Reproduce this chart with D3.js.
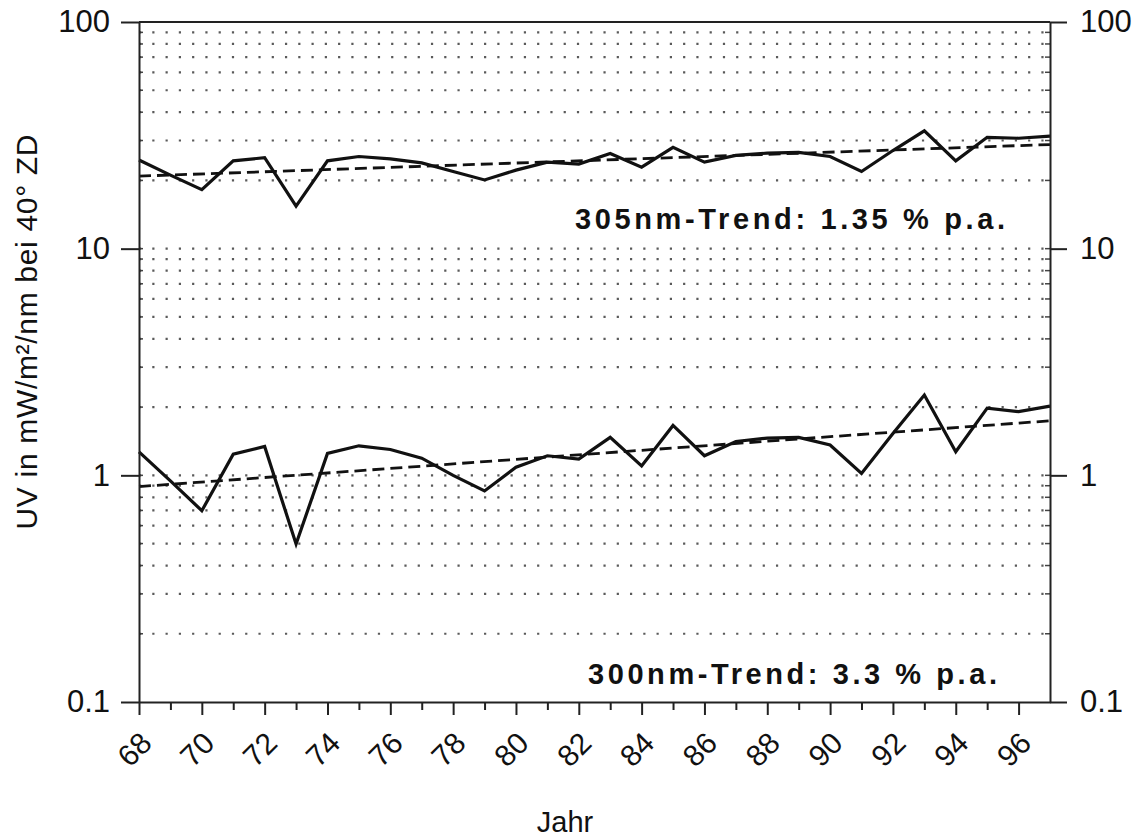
<!DOCTYPE html>
<html>
<head>
<meta charset="utf-8">
<script src="https://cdn.jsdelivr.net/npm/d3@7"></script>
<style>
  html, body { margin: 0; padding: 0; background: #fff; }
  svg { display: block; }
  text { font-family: "Liberation Sans", Arial, Helvetica, sans-serif; fill: #111; }
</style>
</head>
<body>
<svg id="chart" width="1140" height="837"></svg>
<script>
// ---- data ----
const years = [68,69,70,71,72,73,74,75,76,77,78,79,80,81,82,83,84,85,86,87,88,89,90,91,92,93,94,95,96,97];
const uv305 = [24.6,21.1,18.2,24.4,25.2,15.4,24.4,25.5,24.9,23.9,21.9,20.1,22.2,24.1,23.6,26.3,22.9,28.0,24.1,25.8,26.4,26.6,25.5,21.9,27.1,33.1,24.4,31.0,30.7,31.4];
const uv300 = [1.27,0.945,0.698,1.24,1.34,0.498,1.25,1.35,1.30,1.19,1.00,0.853,1.086,1.22,1.18,1.47,1.10,1.66,1.22,1.41,1.46,1.47,1.36,1.02,1.53,2.26,1.27,1.98,1.91,2.02];
const trendYears = [68, 97];
const trend305 = [20.9, 28.8];
const trend300 = [0.892, 1.74];
const majorYearTicks = [68,70,72,74,76,78,80,82,84,86,88,90,92,94,96];
const minorYearTicks = [69,71,73,75,77,79,81,83,85,87,89,91,93,95];
const decadeTicks = [0.1, 1, 10, 100];
const decadeLabels = ["0.1", "1", "10", "100"];
const gridValues = [0.2,0.3,0.4,0.5,0.6,0.7,0.8,0.9,1,2,3,4,5,6,7,8,9,10,20,30,40,50,60,70,80,90];
const label305 = "305nm-Trend: 1.35 % p.a.";
const label300 = "300nm-Trend: 3.3 % p.a.";
const xTitle = "Jahr";
const yTitle = "UV in mW/m²/nm bei 40° ZD";

// ---- layout ----
const L = 139, R = 1050, T = 22, B = 702;
const svg = d3.select("#chart");
const x = d3.scaleLinear().domain([68, 97]).range([L, R]);
const y = d3.scaleLog().domain([0.1, 100]).range([B, T]);

// dotted grid
svg.append("g").selectAll("line").data(gridValues).join("line")
  .attr("x1", L).attr("x2", R)
  .attr("y1", d => y(d)).attr("y2", d => y(d))
  .attr("stroke", "#5a5a5a").attr("stroke-width", 2.2)
  .attr("stroke-dasharray", "2.2 11.07");

// small inward ticks at grid values on both sides
svg.append("g").selectAll("line").data(gridValues).join("line")
  .attr("x1", L).attr("x2", L + 4)
  .attr("y1", d => y(d)).attr("y2", d => y(d))
  .attr("stroke", "#444").attr("stroke-width", 1.5);
svg.append("g").selectAll("line").data(gridValues).join("line")
  .attr("x1", R - 5).attr("x2", R)
  .attr("y1", d => y(d)).attr("y2", d => y(d))
  .attr("stroke", "#444").attr("stroke-width", 1.5);

// lines
const line = d3.line().x(d => x(d[0])).y(d => y(d[1]));
const s305 = years.map((yr, i) => [yr, uv305[i]]);
const s300 = years.map((yr, i) => [yr, uv300[i]]);
const t305 = trendYears.map((yr, i) => [yr, trend305[i]]);
const t300 = trendYears.map((yr, i) => [yr, trend300[i]]);

[t305, t300].forEach(t => {
  svg.append("path").datum(t).attr("d", line)
    .attr("fill", "none").attr("stroke", "#111").attr("stroke-width", 2.8)
    .attr("stroke-dasharray", "12 6");
});
[s305, s300].forEach(s => {
  svg.append("path").datum(s).attr("d", line)
    .attr("fill", "none").attr("stroke", "#111").attr("stroke-width", 3.2)
    .attr("stroke-linejoin", "miter");
});

// frame top line
svg.append("line").attr("x1", L).attr("x2", R).attr("y1", T).attr("y2", T)
  .attr("stroke", "#222").attr("stroke-width", 2);

// axes
const xMajor = svg.append("g").attr("transform", `translate(0,${B})`)
  .call(d3.axisBottom(x).tickValues(majorYearTicks).tickSize(13).tickSizeOuter(0).tickFormat(d => String(d)));
xMajor.select(".domain").attr("stroke", "#222").attr("stroke-width", 2);
xMajor.selectAll(".tick line").attr("stroke", "#222").attr("stroke-width", 2);
xMajor.selectAll(".tick text")
  .attr("x", 0).attr("y", 0).attr("dy", null)
  .attr("transform", "translate(14,43) rotate(-45)")
  .attr("text-anchor", "end")
  .style("font-size", "30px")
  .style("font-family", '"Liberation Sans", Arial, sans-serif')
  .attr("fill", "#111");

const xMinor = svg.append("g").attr("transform", `translate(0,${B})`)
  .call(d3.axisBottom(x).tickValues(minorYearTicks).tickSize(8).tickSizeOuter(0).tickFormat(""));
xMinor.select(".domain").remove();
xMinor.selectAll(".tick line").attr("stroke", "#222").attr("stroke-width", 2);

const yLeft = svg.append("g").attr("transform", `translate(${L},0)`)
  .call(d3.axisLeft(y).tickValues(decadeTicks).tickSize(18).tickSizeOuter(0).tickPadding(11)
    .tickFormat((d, i) => decadeLabels[i]));
const yRight = svg.append("g").attr("transform", `translate(${R},0)`)
  .call(d3.axisRight(y).tickValues(decadeTicks).tickSize(17).tickSizeOuter(0).tickPadding(13)
    .tickFormat((d, i) => decadeLabels[i]));
[yLeft, yRight].forEach(g => {
  g.select(".domain").attr("stroke", "#222").attr("stroke-width", 2);
  g.selectAll(".tick line").attr("stroke", "#222").attr("stroke-width", 2);
  g.selectAll(".tick text")
    .style("font-size", "31px")
    .style("font-family", '"Liberation Sans", Arial, sans-serif')
    .attr("fill", "#111");
});

// trend labels
svg.append("text").attr("x", 575).attr("y", 229)
  .attr("textLength", 430).attr("lengthAdjust", "spacing")
  .style("font-size", "29px").style("font-weight", "bold")
  .text(label305);
svg.append("text").attr("x", 588).attr("y", 684)
  .attr("textLength", 409).attr("lengthAdjust", "spacing")
  .style("font-size", "29px").style("font-weight", "bold")
  .text(label300);

// axis titles
svg.append("text").attr("x", 565).attr("y", 832)
  .attr("text-anchor", "middle").style("font-size", "29px")
  .text(xTitle);
svg.append("text")
  .attr("transform", "translate(37,332) rotate(-90)")
  .attr("text-anchor", "middle").style("font-size", "30px")
  .attr("textLength", 395).attr("lengthAdjust", "spacing")
  .text(yTitle);
</script>
</body>
</html>
